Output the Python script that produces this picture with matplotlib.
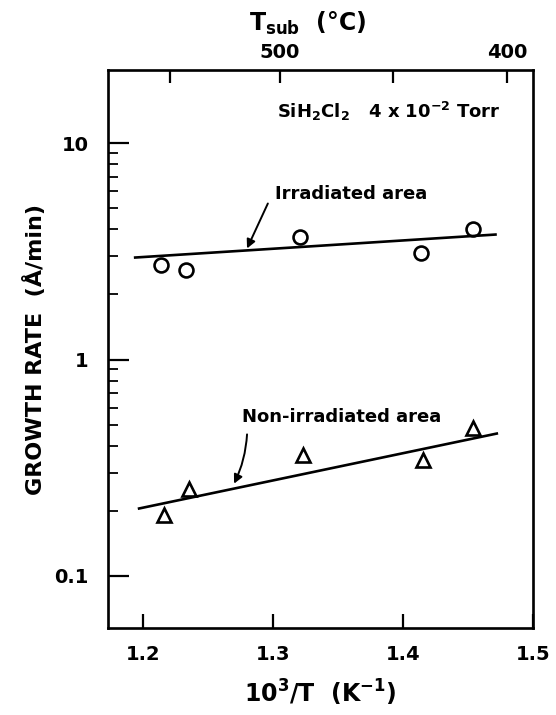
import matplotlib
matplotlib.use('Agg')
from matplotlib import pyplot as plt
from matplotlib.ticker import FixedLocator

# data
irr_x = [1.214, 1.233, 1.321, 1.414, 1.454]
irr_y = [2.72, 2.60, 3.70, 3.09, 4.03]
non_x = [1.216, 1.235, 1.323, 1.415, 1.454]
non_y = [0.192, 0.251, 0.364, 0.342, 0.485]

# fitted lines (end points)
irr_fit_x = [1.194, 1.471]
irr_fit_y = [2.96, 3.78]
non_fit_x = [1.197, 1.472]
non_fit_y = [0.205, 0.455]

# top axis (substrate temperature) tick positions as drawn
top_pos = [1.221, 1.305, 1.392, 1.480]
top_lab = ['', '500', '', '400']

plt.rcParams['font.family'] = ['DejaVu Sans']
plt.rcParams['font.weight'] = 'bold'
plt.rcParams['axes.labelweight'] = 'bold'
plt.rcParams['mathtext.default'] = 'bf'

fig = plt.figure(figsize=(5.56, 7.15), dpi=100)
ax = fig.add_axes([0.194, 0.1217, 0.765, 0.780])

ax.plot(irr_fit_x, irr_fit_y, color='black', lw=1.9)
ax.plot(non_fit_x, non_fit_y, color='black', lw=1.9)
ax.plot(irr_x, irr_y, 'o', ms=10, mfc='none', mec='black', mew=1.9)
ax.plot(non_x, non_y, '^', ms=10, mfc='none', mec='black', mew=1.9)

ax.set_yscale('log')
ax.set_xlim(1.173, 1.5)
ax.set_ylim(0.0575, 21.7)
ax.set_xticks([1.2, 1.3, 1.4, 1.5])
ax.set_xticklabels(['1.2', '1.3', '1.4', '1.5'])
ax.set_yticks([0.1, 1, 10])
ax.set_yticklabels(['0.1', '1', '10'])
minor = [m * d for d in (0.1, 1) for m in range(2, 10)]
ax.yaxis.set_minor_locator(FixedLocator(minor))
ax.yaxis.set_minor_formatter(plt.NullFormatter())

ax.tick_params(axis='both', which='major', direction='in', labelsize=14, width=1.6)
ax.tick_params(axis='x', which='major', length=10, pad=12)
ax.tick_params(axis='y', which='major', length=15, pad=14)
ax.tick_params(axis='y', which='minor', direction='in', length=7, width=1.3)
ax.tick_params(axis='x', which='minor', bottom=False)
for s in ax.spines.values():
    s.set_linewidth(1.9)

ax.set_xlabel('10$^3$/T  (K$^{-1}$)', fontsize=17, labelpad=10)
ax.set_ylabel('GROWTH RATE  (Å/min)', fontsize=16, labelpad=6)

top = ax.twiny()
top.set_xlim(ax.get_xlim())
top.set_xticks(top_pos)
top.set_xticklabels(top_lab)
top.tick_params(axis='x', direction='in', length=9, width=1.6, labelsize=14, pad=6)
top.set_xlabel('T$_{\\rm sub}$  (°C)', fontsize=17, labelpad=12)
top.xaxis.set_label_coords(0.47, 1.07)

ax.text(1.303, 14.0, 'SiH$_2$Cl$_2$   4 x 10$^{-2}$ Torr', fontsize=13,
        va='center')

ax.text(1.3015, 5.84, 'Irradiated area', fontsize=13, va='center')
ax.annotate('', xy=(1.28, 3.26), xytext=(1.296, 5.26),
            arrowprops=dict(arrowstyle='-|>', color='black', lw=1.4,
                            shrinkA=0, shrinkB=0, mutation_scale=13))
ax.text(1.276, 0.545, 'Non-irradiated area', fontsize=13, va='center')
ax.annotate('', xy=(1.270, 0.267), xytext=(1.280, 0.451),
            arrowprops=dict(arrowstyle='-|>', color='black', lw=1.4,
                            connectionstyle='arc3,rad=-0.1',
                            shrinkA=0, shrinkB=0, mutation_scale=13))

fig.savefig('out.png', dpi=100)
